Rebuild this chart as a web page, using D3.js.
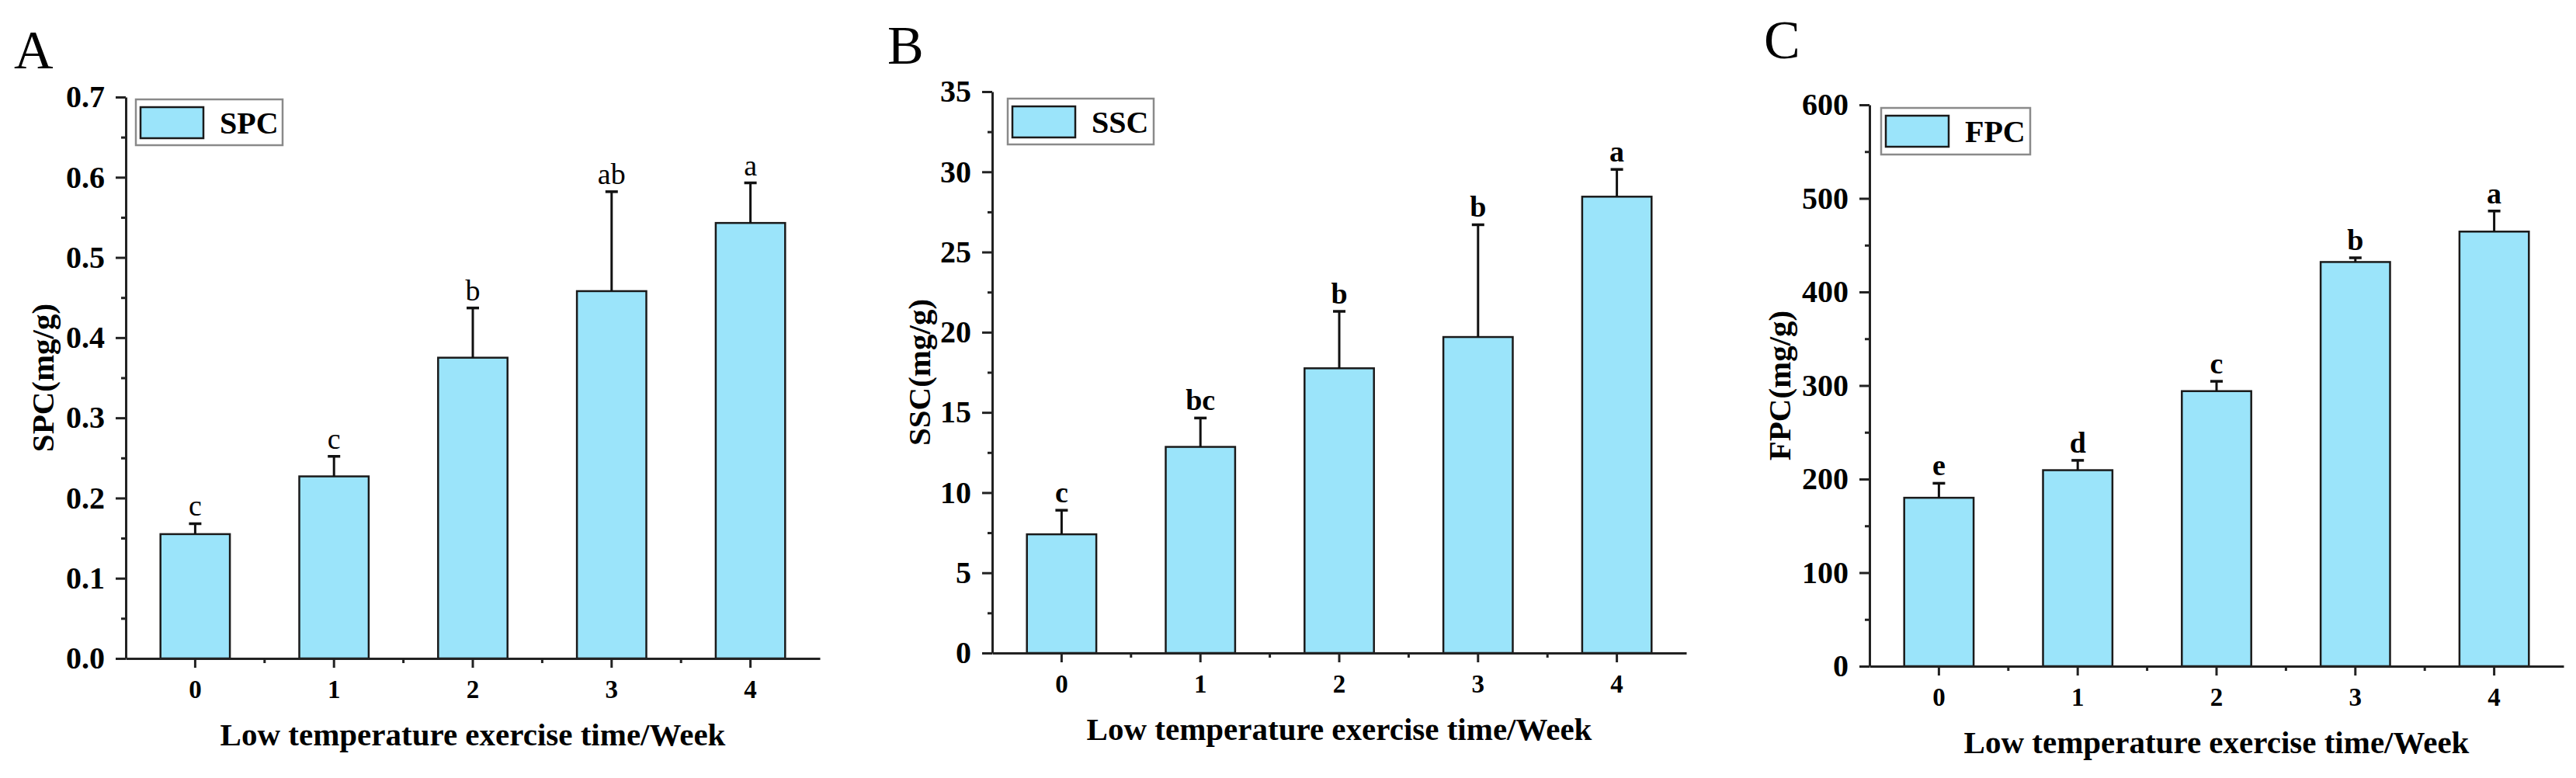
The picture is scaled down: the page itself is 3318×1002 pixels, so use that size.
<!DOCTYPE html>
<html>
<head>
<meta charset="utf-8">
<script src="https://cdn.jsdelivr.net/npm/d3@7"></script>
<style>
  body { margin: 0; background: #fff; }
  svg { display: block; }
  text { font-family: "Liberation Serif", "Times New Roman", serif; }
</style>
</head>
<body>
<script>
(()=>{
    const width = 3318;
    const height = 1002;

    // weeks of low temperature exercise
    const weeks = ["0", "1", "2", "3", "4"];

    const spcMean = [0.155, 0.227, 0.375, 0.458, 0.543];
    const spcSd = [0.013, 0.025, 0.062, 0.124, 0.050];
    const spcLetters = ["c", "c", "b", "ab", "a"];
    const spcTicks = [0, 0.1, 0.2, 0.3, 0.4, 0.5, 0.6, 0.7];

    const sscMean = [7.4, 12.85, 17.75, 19.7, 28.45];
    const sscSd = [1.5, 1.8, 3.55, 7.0, 1.7];
    const sscLetters = ["c", "bc", "b", "b", "a"];
    const sscTicks = [0, 5, 10, 15, 20, 25, 30, 35];

    const fpcMean = [180, 209.5, 294, 432, 464.5];
    const fpcSd = [15.5, 10.5, 10.5, 4.5, 22];
    const fpcLetters = ["e", "d", "c", "b", "a"];
    const fpcTicks = [0, 100, 200, 300, 400, 500, 600];

    const xTitle = "Low temperature exercise time/Week";
    const barColor = "#9be4fa";

    // layout of each panel on the page (pixels)
    const panels = [
        {tag: "A", name: "SPC", mean: spcMean, sd: spcSd, letters: spcLetters, ticks: spcTicks, fmt: d3.format(".1f"),
         left: 162, top: 125, bottom: 848, tagX: 18, tagY: 88, titleGap: 93, legX: 175, legY: 128, legW: 189, legH: 59, boldLetters: false},
        {tag: "B", name: "SSC", mean: sscMean, sd: sscSd, letters: sscLetters, ticks: sscTicks, fmt: d3.format("d"),
         left: 1278, top: 118, bottom: 841, tagX: 1143, tagY: 82, titleGap: 80, legX: 1298, legY: 127, legW: 188, legH: 59, boldLetters: true},
        {tag: "C", name: "FPC", mean: fpcMean, sd: fpcSd, letters: fpcLetters, ticks: fpcTicks, fmt: d3.format("d"),
         left: 2408, top: 135, bottom: 858, tagX: 2272, tagY: 75, titleGap: 102, legX: 2423, legY: 139, legW: 192, legH: 60, boldLetters: true}
    ];
    const plotWidth = 894;

    const svg = d3.create("svg")
        .attr("width", width)
        .attr("height", height)
        .attr("viewBox", [0, 0, width, height]);

    panels.forEach(p => {
        const rows = weeks.map((w, i) => ({week: w, mean: p.mean[i], sd: p.sd[i], letter: p.letters[i]}));

        const x = d3.scaleBand()
            .domain(weeks)
            .range([p.left, p.left + plotWidth])
            .paddingInner(0)
            .paddingOuter(0);

        const y = d3.scaleLinear()
            .domain([0, d3.max(p.ticks)])
            .range([p.bottom, p.top]);

        const g = svg.append("g");

        // panel tag
        g.append("text")
            .attr("x", p.tagX)
            .attr("y", p.tagY)
            .attr("font-size", 70)
            .text(p.tag);

        // bars
        const barW = x.bandwidth() * 0.5;
        g.append("g")
            .selectAll("rect")
            .data(rows)
            .join("rect")
            .attr("x", d => x(d.week) + (x.bandwidth() - barW) / 2)
            .attr("y", d => y(d.mean))
            .attr("width", barW)
            .attr("height", d => y(0) - y(d.mean))
            .attr("fill", barColor)
            .attr("stroke", "#1a1a1a")
            .attr("stroke-width", 2.5);

        // error bars (upper only)
        const eb = g.append("g")
            .attr("stroke", "#111")
            .attr("stroke-width", 3);
        eb.selectAll("line.v")
            .data(rows)
            .join("line")
            .attr("class", "v")
            .attr("x1", d => x(d.week) + x.bandwidth() / 2)
            .attr("x2", d => x(d.week) + x.bandwidth() / 2)
            .attr("y1", d => y(d.mean))
            .attr("y2", d => y(d.mean + d.sd));
        eb.selectAll("line.cap")
            .data(rows)
            .join("line")
            .attr("class", "cap")
            .attr("stroke-width", 3.5)
            .attr("x1", d => x(d.week) + x.bandwidth() / 2 - 8)
            .attr("x2", d => x(d.week) + x.bandwidth() / 2 + 8)
            .attr("y1", d => y(d.mean + d.sd))
            .attr("y2", d => y(d.mean + d.sd));

        // significance letters
        g.append("g")
            .selectAll("text")
            .data(rows)
            .join("text")
            .attr("x", d => x(d.week) + x.bandwidth() / 2)
            .attr("y", d => y(d.mean + d.sd) - 10)
            .attr("text-anchor", "middle")
            .attr("font-size", 38)
            .attr("font-weight", p.boldLetters ? "bold" : "normal")
            .text(d => d.letter);

        // y axis: major + minor ticks
        const step = p.ticks[1] - p.ticks[0];
        const minor = p.ticks.slice(0, -1).map(t => t + step / 2);

        const yAxis = g.append("g")
            .attr("transform", `translate(${p.left},0)`)
            .call(d3.axisLeft(y).tickValues(p.ticks).tickFormat(p.fmt).tickSize(13).tickPadding(14).tickSizeOuter(0));
        g.append("g")
            .attr("transform", `translate(${p.left},0)`)
            .call(d3.axisLeft(y).tickValues(minor).tickFormat("").tickSize(6).tickSizeOuter(0))
            .select(".domain").remove();

        // x axis: major ticks at weeks, minor at band edges
        const xAxis = g.append("g")
            .attr("transform", `translate(0,${p.bottom})`)
            .call(d3.axisBottom(x).tickSize(12).tickPadding(16).tickSizeOuter(0));
        const edges = weeks.slice(1).map(w => x(w));
        g.append("g")
            .attr("stroke", "#222")
            .attr("stroke-width", 3)
            .selectAll("line")
            .data(edges)
            .join("line")
            .attr("x1", d => d)
            .attr("x2", d => d)
            .attr("y1", p.bottom)
            .attr("y2", p.bottom + 6);

        xAxis.select(".domain").attr("stroke", "#222").attr("stroke-width", 3);
        yAxis.select(".domain").attr("stroke", "#222").attr("stroke-width", 3);
        g.selectAll(".tick line").attr("stroke", "#222").attr("stroke-width", 3);
        yAxis.selectAll("text")
            .attr("font-family", "Liberation Serif, Times New Roman, serif")
            .attr("font-size", 40)
            .attr("font-weight", "bold")
            .attr("fill", "#000");
        xAxis.selectAll("text")
            .attr("font-family", "Liberation Serif, Times New Roman, serif")
            .attr("font-size", 33)
            .attr("font-weight", "bold")
            .attr("fill", "#000");

        // axis titles
        g.append("text")
            .attr("x", (p.left + p.left + plotWidth) / 2)
            .attr("y", p.bottom + 112)
            .attr("text-anchor", "middle")
            .attr("font-size", 41)
            .attr("font-weight", "bold")
            .text(xTitle);

        g.append("text")
            .attr("transform", `translate(${p.left - p.titleGap},${(p.top + p.bottom) / 2}) rotate(-90)`)
            .attr("text-anchor", "middle")
            .attr("font-size", 41)
            .attr("font-weight", "bold")
            .text(`${p.name}(mg/g)`);

        // legend
        const leg = g.append("g").attr("transform", `translate(${p.legX},${p.legY})`);
        leg.append("rect")
            .attr("width", p.legW)
            .attr("height", p.legH)
            .attr("fill", "#fff")
            .attr("stroke", "#8a8a8a")
            .attr("stroke-width", 2.5);
        leg.append("rect")
            .attr("x", 6)
            .attr("y", 10)
            .attr("width", 81)
            .attr("height", 40)
            .attr("fill", barColor)
            .attr("stroke", "#1a1a1a")
            .attr("stroke-width", 2.5);
        leg.append("text")
            .attr("x", 108)
            .attr("y", p.legH / 2 + 14)
            .attr("font-size", 40)
            .attr("font-weight", "bold")
            .text(p.name);
    });

    d3.select("body").append(() => svg.node());
})()
</script>
</body>
</html>
